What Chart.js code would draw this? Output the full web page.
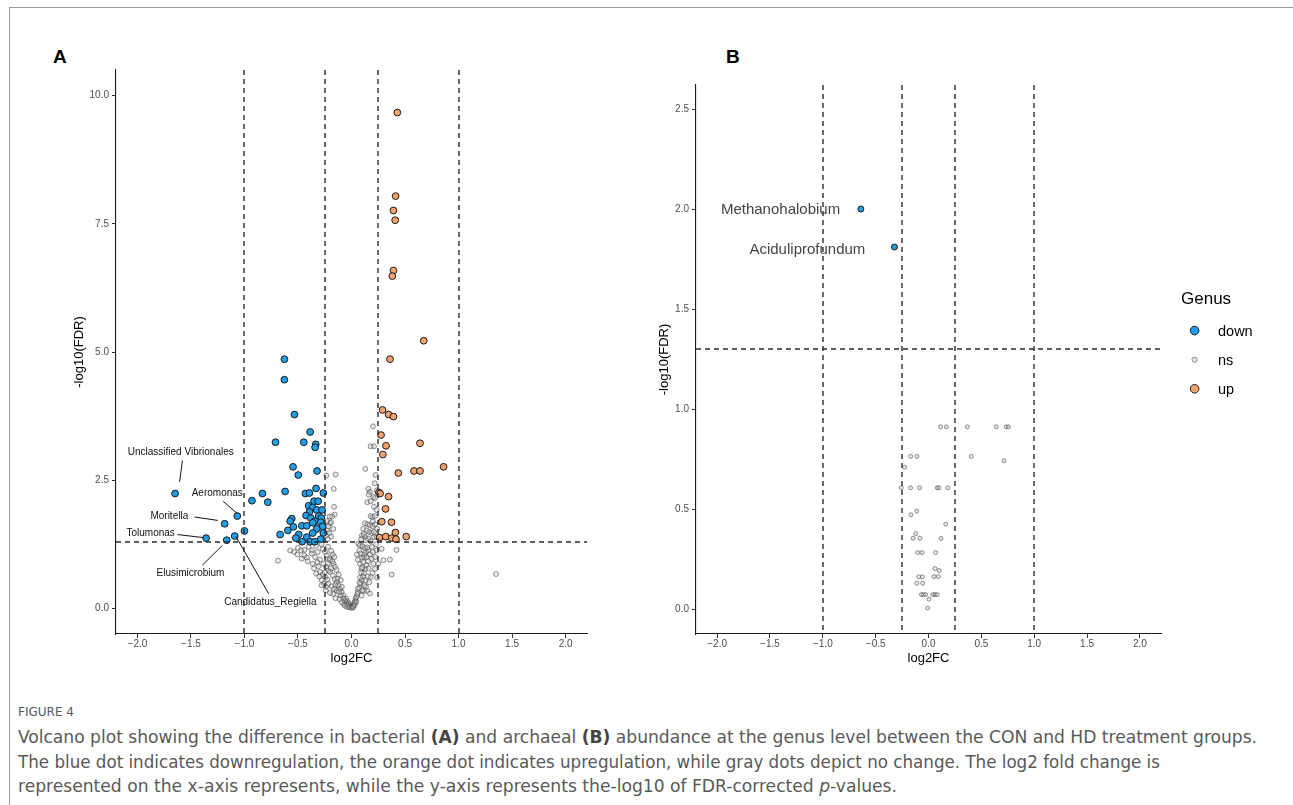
<!DOCTYPE html>
<html>
<head>
<meta charset="utf-8">
<script src="https://cdn.jsdelivr.net/npm/chart.js@4.4.1/dist/chart.umd.min.js"></script>
<style>
  html,body{margin:0;padding:0;background:#fff;}
  body{width:1293px;height:805px;position:relative;overflow:hidden;font-family:"Liberation Sans",Arial,sans-serif;}
  canvas{position:absolute;}
  .frame-top{position:absolute;left:9px;top:7px;width:1284px;height:1px;background:#9a9a9a;}
  .frame-left{position:absolute;left:9px;top:7px;width:1px;height:798px;background:#9a9a9a;}
  .panel{position:absolute;font-weight:bold;font-size:19px;color:#000;line-height:20px;}
  .cap{position:absolute;left:18px;white-space:nowrap;color:#595959;font-family:"Liberation Sans Narrow","DejaVu Sans Condensed","Liberation Sans",sans-serif;transform-origin:0 0;}
  .cap b{color:#444;}
  .fig{font-size:12px;line-height:14px;display:inline-block;}
  .ln{font-size:17px;line-height:20px;display:inline-block;}
</style>
</head>
<body>
<div class="frame-top"></div>
<div class="frame-left"></div>
<div class="panel" style="left:53px;top:47px;">A</div>
<div class="panel" style="left:726px;top:47px;">B</div>
<canvas id="cA" width="600" height="670" style="left:0;top:0;"></canvas>
<canvas id="cB" width="693" height="670" style="left:600px;top:0;"></canvas>
<div class="cap fig" data-w="56" style="top:705px;">FIGURE 4</div>
<div class="cap ln" data-w="1239" style="top:727px;">Volcano plot showing the difference in bacterial <b>(A)</b> and archaeal <b>(B)</b> abundance at the genus level between the CON and HD treatment groups.</div>
<div class="cap ln" data-w="1142" style="top:752px;">The blue dot indicates downregulation, the orange dot indicates upregulation, while gray dots depict no change. The log2 fold change is</div>
<div class="cap ln" data-w="879" style="top:776px;">represented on the x-axis represents, while the y-axis represents the-log10 of FDR-corrected <i>p</i>-values.</div>
<script>
// ---------------- DATA ----------------
const xTickValues = [-2, -1.5, -1, -0.5, 0, 0.5, 1, 1.5, 2];
const yTickValuesA = [0, 2.5, 5, 7.5, 10];
const yTickValuesB = [0, 0.5, 1, 1.5, 2, 2.5];
const fcThresholds = [-1, -0.25, 0.25, 1];
const fdrThreshold = 1.3;
const legendTitle = "Genus";
const legendLabels = ["down", "ns", "up"];

// Panel A (bacteria): [log2FC, -log10(FDR)]
const downA = [
  [-1.648,2.24],[-1.067,1.80],[-1.185,1.65],[-1.358,1.37],[-1.166,1.33],[-1.091,1.41],[-1.0,1.51],
  [-0.930,2.10],[-0.832,2.24],[-0.782,2.07],[-0.71,3.24],[-0.627,4.86],[-0.627,4.46],[-0.62,2.28],
  [-0.533,3.78],[-0.546,2.76],[-0.497,2.60],[-0.446,3.24],[-0.386,3.44],[-0.334,3.20],[-0.34,3.14],
  [-0.322,2.68],[-0.431,2.24],[-0.393,2.25],[-0.331,2.34],[-0.263,2.25],[-0.35,2.09],[-0.312,2.09],
  [-0.40,2.00],[-0.362,1.97],[-0.325,1.92],[-0.275,1.92],[-0.393,1.88],[-0.424,1.81],[-0.306,1.80],
  [-0.558,1.75],[-0.282,1.76],[-0.38,1.76],[-0.573,1.70],[-0.340,1.70],[-0.287,1.68],[-0.464,1.61],
  [-0.418,1.61],[-0.362,1.67],[-0.543,1.59],[-0.269,1.60],[-0.325,1.55],[-0.595,1.52],[-0.362,1.47],
  [-0.493,1.44],[-0.667,1.44],[-0.263,1.47],[-0.520,1.37],[-0.418,1.39],[-0.462,1.30],[-0.387,1.30],
  [-0.343,1.30],[-0.287,1.35]
];
const upA = [
  [0.428,9.67],[0.412,8.04],[0.392,7.76],[0.408,7.57],[0.392,6.59],[0.381,6.48],[0.675,5.22],
  [0.36,4.86],[0.29,3.87],[0.347,3.78],[0.392,3.74],[0.276,3.38],[0.322,3.17],[0.64,3.22],
  [0.293,3.0],[0.86,2.76],[0.438,2.64],[0.584,2.68],[0.64,2.68],[0.256,2.26],[0.267,2.24],
  [0.346,2.18],[0.318,1.94],[0.283,1.69],[0.374,1.68],[0.262,1.38],[0.32,1.40],[0.376,1.37],
  [0.41,1.48],[0.415,1.35],[0.511,1.40]
];
const nsA = [
  [-0.235,2.59],[-0.148,2.61],[-0.166,2.33],[-0.163,1.98],[-0.157,1.83],[-0.204,1.79],[-0.182,1.79],
  [-0.232,1.70],[-0.2,1.66],[-0.225,1.52],[-0.207,1.47],[-0.24,1.42],[-0.222,1.35],[-0.191,1.68],
  [-0.216,1.60],[-0.19,1.40],[-0.17,1.55],
  [0.2,3.55],[0.179,3.16],[0.21,3.16],[0.129,2.72],[0.225,2.60],[0.216,2.44],[0.157,2.33],[0.172,2.27],
  [0.16,2.22],[0.235,2.30],[0.204,2.17],[0.219,2.15],[0.148,2.07],[0.179,2.09],[0.21,1.98],[0.235,1.92],
  [0.179,1.80],[0.197,1.78],[0.219,1.80],[0.126,1.66],[0.151,1.64],[0.172,1.62],[0.197,1.60],[0.219,1.64],
  [0.11,1.55],[0.141,1.52],[0.166,1.49],[0.188,1.47],[0.21,1.49],[0.098,1.42],[0.126,1.39],[0.157,1.36],
  [0.21,1.39],[0.235,1.39],[0.135,1.33],[0.179,1.31],[0.09,1.35],[0.115,1.45],[0.2,1.7],[0.24,1.55],
  [-0.687,0.93],[-0.573,1.13],[-0.5,1.18],[-0.47,1.13],[-0.44,1.14],[-0.40,1.20],[-0.37,1.13],[-0.536,1.10],
  [-0.505,1.05],[-0.44,1.03],[-0.465,0.97],[-0.418,0.99],[-0.37,1.07],[-0.34,1.0],[-0.315,1.1],[-0.294,0.95],
  [-0.362,0.87],[-0.31,0.82],[-0.269,1.16],[-0.247,1.10],[-0.232,1.03],[-0.207,0.97],[-0.263,0.87],
  [-0.238,0.81],[-0.216,0.74],[-0.294,0.71],[-0.269,0.66],[-0.244,0.61],[-0.225,0.56],[-0.278,0.55],
  [-0.256,0.48],[-0.238,0.42],[-0.2,0.71],[-0.175,0.64],[-0.157,0.57],[-0.138,0.51],[-0.216,0.48],
  [-0.185,0.43],[-0.163,0.38],[-0.138,0.34],[-0.2,0.94],[-0.169,0.87],[-0.154,0.81],[-0.175,1.05],
  [-0.123,0.45],[-0.107,0.38],[-0.092,0.32],[-0.076,0.25],[-0.051,0.19],[-0.039,0.14],[-0.026,0.10],
  [-0.014,0.06],[-0.005,0.03],[-0.117,0.32],[-0.101,0.25],[-0.076,0.19],[-0.061,0.14],[-0.045,0.09],
  [-0.03,0.06],[-0.33,1.22],[-0.28,1.25],[-0.22,1.2],[-0.19,1.12],[-0.16,1.0],[-0.18,0.92],[-0.14,0.75],
  [-0.12,0.66],[-0.19,0.78],[-0.22,0.88],[-0.25,0.7],[-0.3,0.62],[-0.32,0.9],[-0.41,0.92],[-0.35,0.78],
  [-0.33,0.68],[-0.28,0.45],[-0.24,0.35],[-0.2,0.3],[-0.17,0.28],[-0.15,0.2],[-0.11,0.18],[-0.09,0.12],
  [-0.07,0.08],[-0.06,0.05],[-0.04,0.03],[-0.02,0.02],[-0.13,0.58],[-0.1,0.55],[-0.15,0.46],[-0.09,0.42],
  [0.002,0.01],[0.011,0.04],[0.023,0.09],[0.036,0.16],[0.048,0.23],[0.061,0.32],[0.073,0.40],[0.085,0.48],
  [0.095,0.55],[0.107,0.62],[0.117,0.69],[0.129,0.77],[0.141,0.84],[0.154,0.92],[0.073,1.13],[0.085,1.07],
  [0.098,0.99],[0.079,0.87],[0.095,0.77],[0.117,1.0],[0.135,1.10],[0.157,1.14],[0.172,1.05],[0.188,0.97],
  [0.204,0.87],[0.219,0.77],[0.197,0.69],[0.179,0.61],[0.166,0.51],[0.135,0.42],[0.117,0.34],[0.095,0.25],
  [0.148,0.34],[0.172,0.29],[0.235,1.13],[0.281,1.16],[0.25,0.87],[0.297,0.94],[0.359,0.95],[0.375,0.66],
  [0.421,1.14],[0.064,1.26],[0.079,1.23],[0.104,1.21],[0.126,1.18],[0.148,1.19],[1.35,0.67],
  [0.02,0.05],[0.03,0.12],[0.04,0.2],[0.055,0.28],[0.06,0.38],[0.075,0.5],[0.08,0.6],[0.09,0.7],[0.1,0.8],
  [0.11,0.9],[0.12,1.05],[0.14,1.0],[0.16,0.78],[0.2,1.1],[0.22,1.0],[0.24,0.6],[0.13,0.55],[0.15,0.62],
  [0.1,0.35],[0.12,0.45],[0.06,0.95],[0.05,1.05],[0.19,1.2],[0.23,1.25],[0.015,0.02],[0.03,0.07],[0.045,0.13]
];
// Panel A labels: text, text position (data units), segment from -> to (data units)
const labelTextA = ["Unclassified Vibrionales","Aeromonas","Moritella","Tolumonas","Elusimicrobium","Candidatus_Regiella"];
const labelPosA = [[-1.595,3.04],[-1.254,2.24],[-1.702,1.805],[-1.876,1.462],[-1.504,0.694],[-0.758,0.127]];
const labelSegA = [
  [[-1.579,2.885],[-1.606,2.47]],
  [[-1.198,2.086],[-1.068,1.852]],
  [[-1.465,1.782],[-1.249,1.715]],
  [[-1.625,1.439],[-1.382,1.380]],
  [[-1.394,0.842],[-1.206,1.228]],
  [[-1.080,1.404],[-0.774,0.285]]
];

// Panel B (archaea)
const downB = [[-0.64,2.0],[-0.322,1.81]];
const upB = [];
const nsB = [
  [0.115,0.911],[0.169,0.911],[0.368,0.911],[0.642,0.911],[0.734,0.911],[0.756,0.911],[-0.169,0.763],
  [-0.109,0.763],[0.405,0.763],[0.715,0.741],[-0.226,0.709],[-0.257,0.606],[-0.170,0.606],[-0.085,0.606],
  [0.083,0.606],[0.098,0.606],[0.181,0.606],[-0.112,0.489],[-0.166,0.471],[0.163,0.424],[-0.121,0.377],
  [-0.146,0.354],[-0.08,0.354],[0.119,0.353],[-0.102,0.282],[-0.061,0.282],[0.067,0.282],[0.061,0.202],
  [0.102,0.192],[-0.092,0.161],[-0.058,0.161],[0.052,0.162],[0.093,0.162],[-0.111,0.129],[-0.054,0.129],
  [-0.067,0.072],[-0.048,0.072],[-0.027,0.072],[0.042,0.072],[0.061,0.072],[0.083,0.072],[0.005,0.049],
  [-0.008,0.005]
];
const labelTextB = ["Methanohalobium","Aciduliprofundum"];
const labelPosB = [[-1.40,1.995],[-1.146,1.795]];

// ---------------- STYLE ----------------
const BLUE = '#1f9de6', ORANGE = '#f4a26c', EDGE = '#1b1b1b';
const NS_FILL = 'rgba(190,190,190,0.35)', NS_EDGE = 'rgba(60,60,60,0.6)';
const TICK_COLOR = '#4d4d4d';
const FONT = '"Liberation Sans", Arial, sans-serif';

const toPts = arr => arr.map(([x, y]) => ({x, y}));
const fmt = v => (v < 0 ? '\u2212' : '') + Math.abs(v).toFixed(1);

function makeScales(yTicks, ymin, ymax, yWidth) {
  return {
    x: {
      type: 'linear', min: -2.2, max: 2.2,
      afterBuildTicks: s => { s.ticks = xTickValues.map(v => ({value: v})); },
      afterFit: s => { s.height = 36; },
      ticks: {color: TICK_COLOR, font: {family: FONT, size: 10}, padding: 0, callback: v => fmt(v), maxRotation: 0, autoSkip: false},
      grid: {drawOnChartArea: false, drawTicks: true, tickLength: 4, tickColor: '#333', tickWidth: 1},
      border: {display: true, color: '#1a1a1a', width: 1.1},
      title: {display: true, text: 'log2FC', color: '#000', font: {family: FONT, size: 13}, padding: {top: 0, bottom: 4}}
    },
    y: {
      type: 'linear', min: ymin, max: ymax,
      afterBuildTicks: s => { s.ticks = yTicks.map(v => ({value: v})); },
      afterFit: s => { s.width = yWidth; },
      ticks: {color: TICK_COLOR, font: {family: FONT, size: 10}, padding: 3, callback: v => fmt(v), autoSkip: false},
      grid: {drawOnChartArea: false, drawTicks: true, tickLength: 4, tickColor: '#333', tickWidth: 1},
      border: {display: true, color: '#1a1a1a', width: 1.1},
      title: {display: true, text: '-log10(FDR)', color: '#000', font: {family: FONT, size: 13}, padding: {top: 4, bottom: 0}}
    }
  };
}

const refLines = {
  id: 'refLines',
  afterDatasetsDraw(chart) {
    const {ctx, chartArea: a, scales: {x, y}} = chart;
    ctx.save();
    ctx.beginPath(); ctx.rect(a.left, a.top, a.right - a.left, a.bottom - a.top); ctx.clip();
    ctx.strokeStyle = '#2b2b2b'; ctx.lineWidth = 1.4; ctx.setLineDash([5, 4]);
    fcThresholds.forEach(v => {
      const px = Math.round(x.getPixelForValue(v));
      ctx.beginPath(); ctx.moveTo(px, a.top); ctx.lineTo(px, a.bottom); ctx.stroke();
    });
    const py = Math.round(y.getPixelForValue(fdrThreshold));
    ctx.beginPath(); ctx.moveTo(a.left, py); ctx.lineTo(a.right, py); ctx.stroke();
    ctx.restore();
  }
};

const labelsA = {
  id: 'labelsA',
  afterDatasetsDraw(chart) {
    const {ctx, scales: {x, y}} = chart;
    ctx.save();
    ctx.strokeStyle = '#111'; ctx.lineWidth = 1;
    labelSegA.forEach(([p, q]) => {
      ctx.beginPath();
      ctx.moveTo(x.getPixelForValue(p[0]), y.getPixelForValue(p[1]));
      ctx.lineTo(x.getPixelForValue(q[0]), y.getPixelForValue(q[1]));
      ctx.stroke();
    });
    ctx.fillStyle = '#111'; ctx.font = '10px ' + FONT; ctx.textAlign = 'center'; ctx.textBaseline = 'middle';
    labelTextA.forEach((t, i) => {
      ctx.fillText(t, x.getPixelForValue(labelPosA[i][0]), y.getPixelForValue(labelPosA[i][1]));
    });
    ctx.restore();
  }
};

const labelsB = {
  id: 'labelsB',
  afterDatasetsDraw(chart) {
    const {ctx, scales: {x, y}, chartArea: a} = chart;
    ctx.save();
    ctx.fillStyle = '#444'; ctx.font = '15px ' + FONT; ctx.textAlign = 'center'; ctx.textBaseline = 'middle';
    labelTextB.forEach((t, i) => {
      ctx.fillText(t, x.getPixelForValue(labelPosB[i][0]), y.getPixelForValue(labelPosB[i][1]));
    });
    // legend
    const lx = a.right + 20, ly = 299;
    ctx.fillStyle = '#000'; ctx.textAlign = 'left'; ctx.font = '17px ' + FONT;
    ctx.fillText(legendTitle, lx, ly);
    const styles = [
      {r: 4.3, fill: BLUE, edge: EDGE, w: 1},
      {r: 2.6, fill: NS_FILL, edge: NS_EDGE, w: 0.9},
      {r: 4.3, fill: ORANGE, edge: EDGE, w: 1}
    ];
    ctx.font = '14.5px ' + FONT;
    legendLabels.forEach((t, i) => {
      const cy = 330.6 + i * 29.1;
      const st = styles[i];
      ctx.beginPath(); ctx.arc(lx + 13.6, cy, st.r, 0, Math.PI * 2);
      ctx.fillStyle = st.fill; ctx.fill();
      ctx.lineWidth = st.w; ctx.strokeStyle = st.edge; ctx.stroke();
      ctx.fillStyle = '#000';
      ctx.fillText(t, lx + 37, cy + 1);
    });
    ctx.restore();
  }
};

function dsets(down, up, ns, rBig, rSmall) {
  return [
    {label: 'down', data: toPts(down), backgroundColor: BLUE, borderColor: EDGE, borderWidth: 1, pointRadius: rBig, pointHoverRadius: rBig},
    {label: 'up', data: toPts(up), backgroundColor: ORANGE, borderColor: EDGE, borderWidth: 1, pointRadius: rBig, pointHoverRadius: rBig},
    {label: 'ns', data: toPts(ns), backgroundColor: NS_FILL, borderColor: NS_EDGE, borderWidth: 0.9, pointRadius: rSmall, pointHoverRadius: rSmall}
  ];
}

const common = {
  responsive: false, animation: false, devicePixelRatio: 1,
  plugins: {legend: {display: false}, tooltip: {enabled: false}},
  events: []
};

new Chart(document.getElementById('cA'), {
  type: 'scatter',
  data: {datasets: dsets(downA, upA, nsA, 3.4, 2.5)},
  options: Object.assign({}, common, {
    layout: {padding: {left: 68, top: 70, right: 13, bottom: 0}},
    scales: makeScales(yTickValuesA, -0.5, 10.5, 48)
  }),
  plugins: [labelsA, refLines]
});

new Chart(document.getElementById('cB'), {
  type: 'scatter',
  data: {datasets: dsets(downB, upB, nsB, 3.0, 2.0)},
  options: Object.assign({}, common, {
    layout: {padding: {left: 53, top: 85, right: 132, bottom: 0}},
    scales: makeScales(yTickValuesB, -0.125, 2.62, 43)
  }),
  plugins: [labelsB, refLines]
});

// fit caption lines to measured widths
document.querySelectorAll('.cap').forEach(el => {
  const target = parseFloat(el.dataset.w);
  const w = el.getBoundingClientRect().width;
  if (w > 0 && target) el.style.transform = 'scaleX(' + (target / w).toFixed(4) + ')';
});
</script>
</body>
</html>
